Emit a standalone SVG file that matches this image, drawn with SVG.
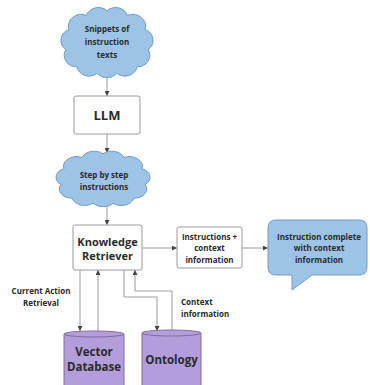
<svg xmlns="http://www.w3.org/2000/svg" width="370" height="385" viewBox="0 0 370 385">
<defs>
<style>
text{font-family:"Open Sans","Liberation Sans",sans-serif;font-weight:bold;fill:#2b2b2b;text-anchor:middle}
.cloud{fill:#9dc3e6;stroke:#6f9cc6;stroke-width:1}
.box{fill:#fff;stroke:#9a9a9a;stroke-width:1}
.db{fill:#b39ddb;stroke:#7f6d9e;stroke-width:1}
.conn{fill:none;stroke:#9a9a9a;stroke-width:1;marker-end:url(#arr)}
.s8{font-size:8px}
.lbl{text-anchor:start}
</style>
<marker id="arr" viewBox="0 0 6 6" refX="6" refY="3" markerWidth="5" markerHeight="5" orient="auto" markerUnits="userSpaceOnUse">
<path d="M0,0 L6,3 L0,6 Z" fill="#444"/>
</marker>
<symbol id="cloudShape" viewBox="0 0 100 76" preserveAspectRatio="none">
<path class="cloud" vector-effect="non-scaling-stroke" d="M8,46 A12,12 0 0 1 11,25 A13,13 0 0 1 29,10 A13,13 0 0 1 50,5 A13,13 0 0 1 71,10 A13,13 0 0 1 89,25 A12,12 0 0 1 92,46 A12,12 0 0 1 81,64 A13,13 0 0 1 60,71 A13,13 0 0 1 40,71 A13,13 0 0 1 19,64 A12,12 0 0 1 8,46 Z"/>
</symbol>
</defs>

<g id="connectors">
<path class="conn" d="M107,75 V96"/>
<path class="conn" d="M107,134 V153"/>
<path class="conn" d="M107,205 V225"/>
<path class="conn" d="M142,248 H177"/>
<path class="conn" d="M242,248 H268"/>
<path class="conn" d="M80,270 V331"/>
<path class="conn" d="M98,331 V270"/>
<path class="conn" d="M124,270 V297 H157 V331"/>
<path class="conn" d="M172,331 V291 H135 V270"/>
</g>

<g id="snippets">
<use href="#cloudShape" x="58" y="6" width="98" height="72"/>
<text class="s8" x="107" y="32">Snippets of</text>
<text class="s8" x="107" y="45">instruction</text>
<text class="s8" x="107" y="58">texts</text>
</g>

<g id="llm">
<rect class="box" x="74" y="96" width="66" height="38" rx="2"/>
<text x="107" y="120" style="font-size:13px">LLM</text>
</g>

<g id="steps">
<use href="#cloudShape" x="53" y="150" width="100" height="57"/>
<text class="s8" x="104" y="178">Step by step</text>
<text class="s8" x="104" y="190">instructions</text>
</g>

<g id="retriever">
<rect class="box" x="73" y="225" width="69" height="45" rx="2"/>
<text x="107.5" y="246" style="font-size:11px">Knowledge</text>
<text x="107.5" y="260" style="font-size:11px">Retriever</text>
</g>

<g id="instr-context">
<rect class="box" x="177" y="227" width="65" height="41" rx="2"/>
<text class="s8" x="209.5" y="240">Instructions +</text>
<text class="s8" x="209.5" y="251">context</text>
<text class="s8" x="209.5" y="263">information</text>
</g>

<g id="complete">
<path class="cloud" d="M276,220 H359 Q367,220 367,228 V267 Q367,275 359,275 H312 L292,290 V275 H276 Q268,275 268,267 V228 Q268,220 276,220 Z"/>
<text class="s8" x="319" y="240">Instruction complete</text>
<text class="s8" x="319" y="251">with context</text>
<text class="s8" x="319" y="263">information</text>
</g>

<g id="vector-db">
<path class="db" d="M64,334 A30,3 0 0 1 124,334 V390 H64 Z"/>
<path class="db" d="M64,334 A30,3 0 0 0 124,334" fill="none"/>
<text x="94" y="356" style="font-size:11.5px">Vector</text>
<text x="94" y="371" style="font-size:11.5px">Database</text>
</g>

<g id="ontology">
<path class="db" d="M142,333 A29.5,3 0 0 1 201,333 V390 H142 Z"/>
<path class="db" d="M142,333 A29.5,3 0 0 0 201,333" fill="none"/>
<text x="171.5" y="364" style="font-size:11.5px">Ontology</text>
</g>

<g id="labels">
<text class="s8" x="41" y="294">Current Action</text>
<text class="s8" x="41" y="306">Retrieval</text>
<text class="s8 lbl" x="181" y="305">Context</text>
<text class="s8 lbl" x="181" y="317">information</text>
</g>
</svg>
